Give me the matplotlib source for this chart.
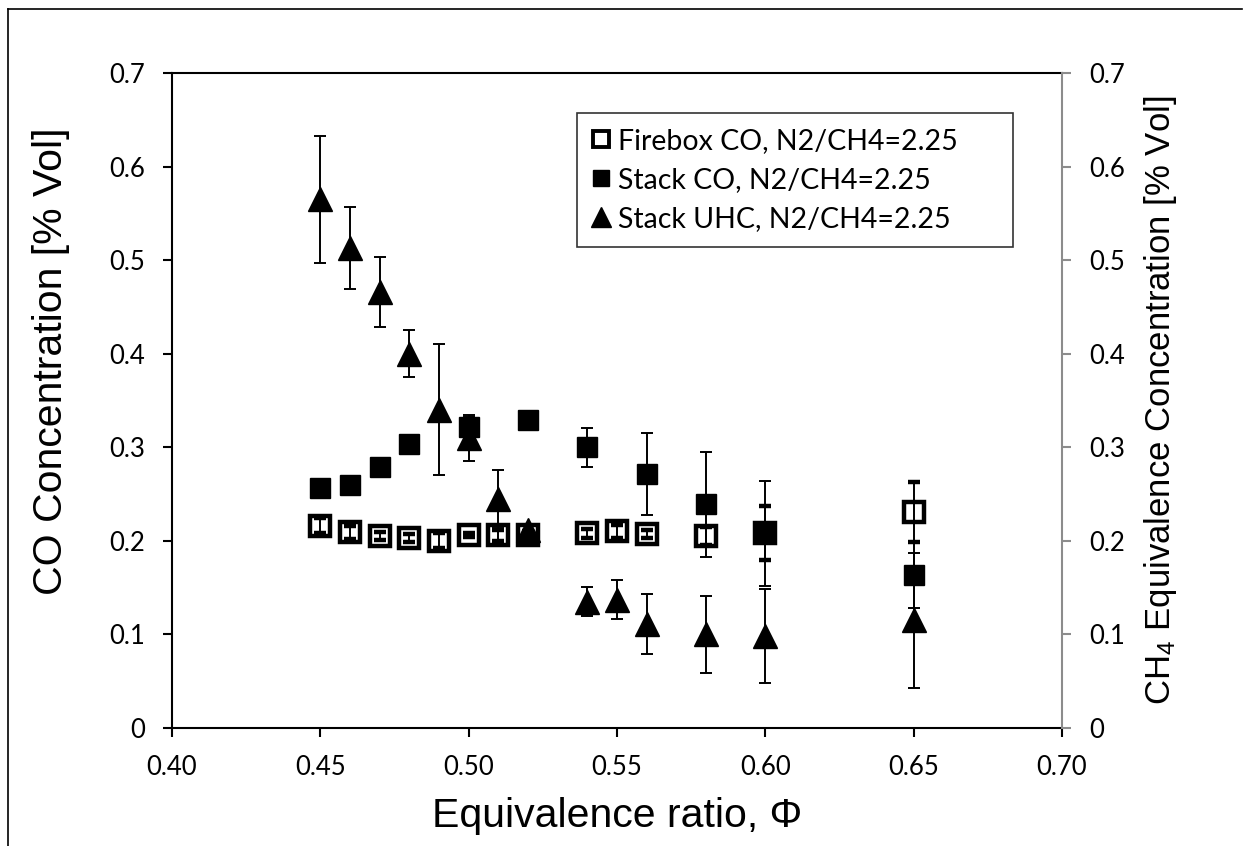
import numpy as np
from matplotlib import pyplot as plt
from matplotlib.ticker import FuncFormatter
from matplotlib.lines import Line2D

# firebox CO (open squares)
phi_fb = [0.45, 0.46, 0.47, 0.48, 0.49, 0.50, 0.51, 0.52, 0.54, 0.55, 0.56, 0.58, 0.60, 0.65]
co_fb = [0.216, 0.209, 0.205, 0.203, 0.200, 0.206, 0.206, 0.206, 0.208, 0.210, 0.207, 0.205, 0.208, 0.231]
co_fb_err = [0.008, 0.007, 0.004, 0.004, 0.008, 0.002, 0.006, 0.004, 0.005, 0.007, 0.004, 0.010, 0.029, 0.032]

# stack CO (filled squares)
phi_st = [0.45, 0.46, 0.47, 0.48, 0.50, 0.52, 0.54, 0.56, 0.58, 0.60, 0.65]
co_st = [0.256, 0.260, 0.279, 0.303, 0.322, 0.329, 0.300, 0.271, 0.239, 0.208, 0.163]
co_st_err = [0.004, 0.004, 0.004, 0.004, 0.010, 0.004, 0.021, 0.044, 0.056, 0.056, 0.035]

# stack UHC (triangles, right axis)
phi_uhc = [0.45, 0.46, 0.47, 0.48, 0.49, 0.50, 0.51, 0.52, 0.54, 0.55, 0.56, 0.58, 0.60, 0.65]
uhc = [0.565, 0.513, 0.466, 0.400, 0.340, 0.310, 0.245, 0.211, 0.135, 0.137, 0.111, 0.100, 0.098, 0.115]
uhc_err = [0.068, 0.044, 0.037, 0.025, 0.070, 0.025, 0.031, 0.005, 0.016, 0.021, 0.032, 0.041, 0.050, 0.072]

labels = ['Firebox CO, N2/CH4=2.25', 'Stack CO, N2/CH4=2.25', 'Stack UHC, N2/CH4=2.25']
xticks = [0.40, 0.45, 0.50, 0.55, 0.60, 0.65, 0.70]
yticks = [0, 0.1, 0.2, 0.3, 0.4, 0.5, 0.6, 0.7]

plt.rcParams['mathtext.fontset'] = 'custom'
plt.rcParams['mathtext.rm'] = 'Liberation Sans'
plt.rcParams['mathtext.it'] = 'Liberation Sans'
plt.rcParams['mathtext.default'] = 'regular'

tickfont = 'Lato'
labfont = 'Liberation Sans'
grey = '#8c8c8c'
tsize = 18.5

fig = plt.figure(figsize=(12.44, 8.46), dpi=100)
ax = fig.add_axes([0.1383, 0.1398, 0.8537 - 0.1383, 0.9134 - 0.1398])

ebkw = dict(ls='none', ecolor='black', elinewidth=1.4, capsize=4, capthick=1.4)
ax.errorbar(phi_fb, co_fb, yerr=co_fb_err, marker='s', ms=15, mfc='none', mec='black', mew=3.2, zorder=3, **ebkw)
ax.errorbar(phi_uhc, uhc, yerr=uhc_err, marker='^', ms=17.5, mfc='black', mec='black', zorder=4, **ebkw)
ax.errorbar(phi_st, co_st, yerr=co_st_err, marker='s', ms=15, mfc='black', mec='black', zorder=5, **ebkw)

ax.set_xlim(0.40, 0.70)
ax.set_ylim(0, 0.7)
ax.set_xticks(xticks)
ax.set_yticks(yticks)
ax.xaxis.set_major_formatter(FuncFormatter(lambda v, p: '%.2f' % v))
fmt_y = FuncFormatter(lambda v, p: '0' if abs(v) < 1e-9 else '%.1f' % v)
ax.yaxis.set_major_formatter(fmt_y)

for s in ['left', 'bottom', 'top']:
    ax.spines[s].set_color('black')
    ax.spines[s].set_linewidth(1.5)
ax.spines['right'].set_visible(False)
ax.tick_params(axis='both', direction='out', length=6.7, width=1.5, colors='black',
               labelsize=tsize, pad=13)
for t in ax.get_xticklabels() + ax.get_yticklabels():
    t.set_fontfamily(tickfont)

ax2 = ax.twinx()
ax2.set_ylim(0, 0.7)
ax2.set_yticks(yticks)
ax2.yaxis.set_major_formatter(fmt_y)
for s in ['left', 'bottom', 'top']:
    ax2.spines[s].set_visible(False)
ax2.spines['right'].set_color(grey)
ax2.spines['right'].set_linewidth(1.5)
ax2.tick_params(axis='y', direction='out', length=6.7, width=1.5, color=grey,
                labelcolor='black', labelsize=tsize, pad=13)
for t in ax2.get_yticklabels():
    t.set_fontfamily(tickfont)

ax.set_xlabel('Equivalence ratio, Φ', fontsize=29.5, family=labfont, labelpad=12)
ax.set_ylabel('CO Concentration [% Vol]', fontsize=29.5, family=labfont)
ax.yaxis.set_label_coords(-0.115, 0.56)
ax2.set_ylabel('CH$_4$ Equivalence Concentration [% Vol]', fontsize=25, family=labfont, labelpad=12)

handles = [
    Line2D([], [], ls='none', marker='s', ms=12, mfc='none', mec='black', mew=2.8),
    Line2D([], [], ls='none', marker='s', ms=12, mfc='black', mec='black'),
    Line2D([], [], ls='none', marker='^', ms=14, mfc='black', mec='black'),
]
leg = ax.legend(handles, labels, loc='upper left', mode='expand',
                bbox_to_anchor=(0.455, 0.0, 0.49, 0.94),
                prop={'family': tickfont, 'size': 20.5}, frameon=True, fancybox=False,
                edgecolor='black', handlelength=0.6, handletextpad=0.3,
                labelspacing=0.45, borderpad=0.55, borderaxespad=0)
leg.get_frame().set_linewidth(1.2)
leg.set_zorder(10)

# outer chart border
fig.add_artist(plt.Line2D([0.0067, 0.0067], [0, 0.989], color='black', lw=1.2))
fig.add_artist(plt.Line2D([0.0067, 0.998], [0.989, 0.989], color='black', lw=1.2))

fig.savefig('out.png', dpi=100)
